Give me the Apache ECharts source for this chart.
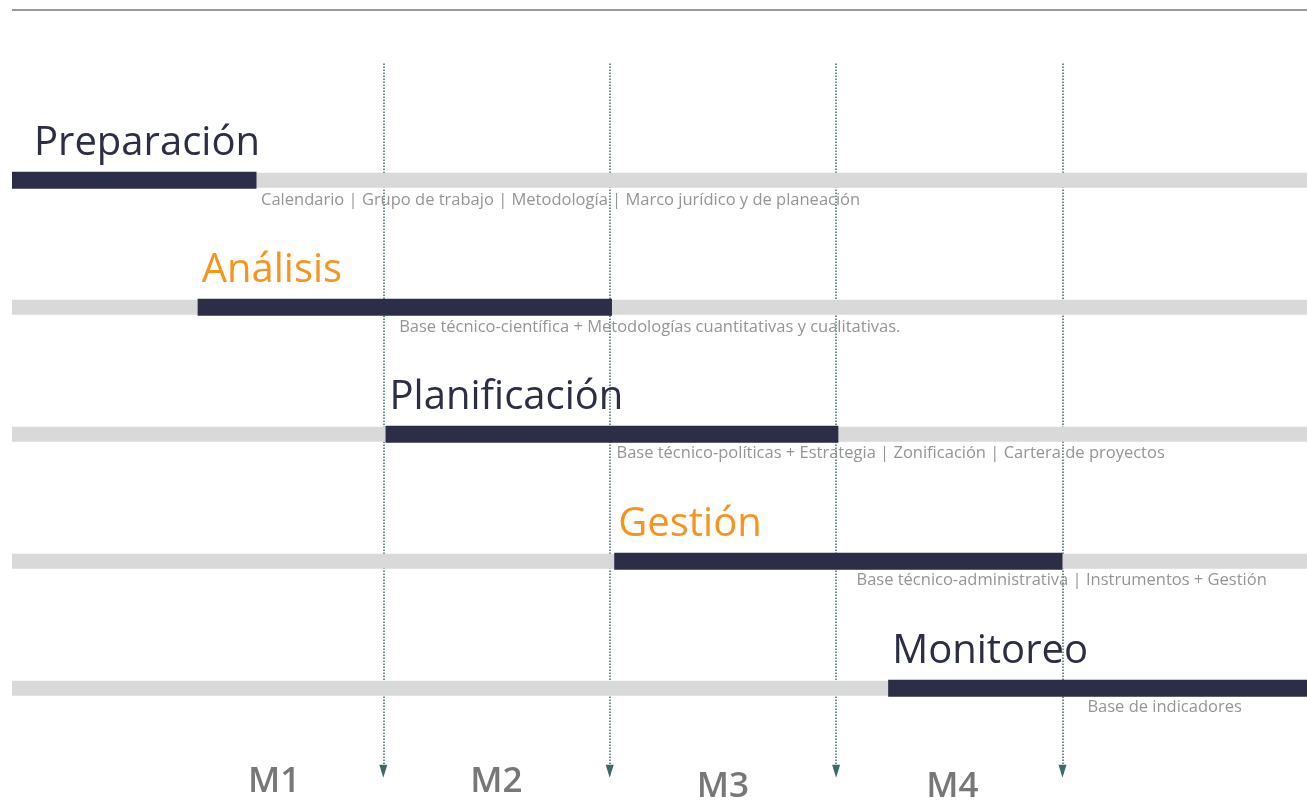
<!DOCTYPE html>
<html><head><meta charset="utf-8">
<script src="https://cdn.jsdelivr.net/npm/echarts@6/dist/echarts.min.js"></script>
<style>html,body{margin:0;padding:0;background:#fff}#c{width:1307px;height:800px}</style>
</head><body><div id="c"></div>
<script>
// ---- data (time in months) ----
const phases = ['Preparación', 'Análisis', 'Planificación', 'Gestión', 'Monitoreo'];
const phaseStart = [-0.64, 0.18, 1.01, 2.02, 3.23];
const phaseEnd = [0.44, 2.01, 3.01, 4.00, 5.08];
const phaseNotes = [
  'Calendario | Grupo de trabajo | Metodología | Marco jurídico y de planeación',
  'Base técnico-científica + Metodologías cuantitativas y cualitativas.',
  'Base técnico-políticas + Estrategia | Zonificación | Cartera de proyectos',
  'Base técnico-administrativa | Instrumentos + Gestión',
  'Base de indicadores'
];
const noteStart = [0.46, 1.07, 2.03, 3.09, 4.11];
const months = ['M1', 'M2', 'M3', 'M4'];
const monthEnds = [1, 2, 3, 4];
const timelineStart = -0.64, timelineEnd = 5.08;

// ---- styles ----
const navy = '#2b2e46';
const orange = '#f7941d';
const titleColors = [navy, orange, navy, orange, navy];
const titleIndent = [22, 4, 4, 4, 4];
const monthDrop = [0, 0, 5, 5];
const monthShift = [4, 0, 0, 3];
const FONT = '"Open Sans", "Noto Sans", sans-serif';

const chart = echarts.init(document.getElementById('c'), null, {renderer: 'canvas'});

const ganttData = phases.map((p, i) => [phaseStart[i], phaseEnd[i], i + 1, noteStart[i]]);

function renderItem(params, api) {
  const i = params.dataIndex;
  const row = api.value(2);
  const s = api.coord([api.value(0), row]);
  const e = api.coord([api.value(1), row]);
  const g0 = api.coord([timelineStart, row]);
  const g1 = api.coord([timelineEnd, row]);
  const n = api.coord([api.value(3), row]);
  return {
    type: 'group',
    children: [
      {type: 'rect', shape: {x: g0[0], y: s[1] - 7.5, width: g1[0] - g0[0], height: 15}, style: {fill: '#d9d9d9'}},
      {type: 'rect', shape: {x: s[0], y: s[1] - 8.5, width: e[0] - s[0], height: 17}, style: {fill: navy}},
      {type: 'text', style: {text: phases[i], x: s[0] + titleIndent[i], y: s[1] - 37, fill: titleColors[i],
        fontSize: 40, fontFamily: FONT, fontWeight: 500, align: 'left', verticalAlign: 'middle'}},
      {type: 'text', style: {text: phaseNotes[i], x: n[0], y: s[1] + 19.5, fill: '#959595',
        fontSize: 16.5, fontFamily: FONT, fontWeight: 400, align: 'left', verticalAlign: 'middle'}}
    ]
  };
}

chart.setOption({
  animation: false,
  backgroundColor: '#ffffff',
  grid: {left: 0, right: 0, top: 0, bottom: 0},
  xAxis: {type: 'value', min: -0.693, max: 5.08, show: false},
  yAxis: {type: 'value', min: -0.42, max: 5.88, inverse: true, show: false},
  graphic: [
    {type: 'line', shape: {x1: 12, y1: 10, x2: 1307, y2: 10}, style: {stroke: '#999999', lineWidth: 2}, z: 10}
  ],
  series: [
    {
      type: 'scatter',
      z: 1,
      silent: true,
      symbol: 'circle',
      symbolSize: 1,
      itemStyle: {color: 'transparent'},
      data: months.map((m, i) => ({value: [monthEnds[i] - 0.5, 5.74], label: {offset: [monthShift[i], monthDrop[i]]}})),
      label: {
        show: true, position: 'inside',
        formatter: p => months[p.dataIndex],
        fontSize: 35, fontWeight: 600, color: '#555555', fontFamily: FONT
      },
      markLine: {
        silent: true,
        z: 1,
        symbol: ['none', 'triangle'],
        symbolSize: [8, 13],
        label: {show: false},
        lineStyle: {type: 'dotted', color: '#3c6a6a', width: 1.5},
        data: monthEnds.map(m => [{coord: [m, 0.08]}, {coord: [m, 5.654]}])
      }
    },
    {
      type: 'custom',
      z: 10,
      silent: true,
      renderItem: renderItem,
      encode: {x: [0, 1], y: 2},
      data: ganttData,
      clip: false
    }
  ]
});
</script>
</body></html>
